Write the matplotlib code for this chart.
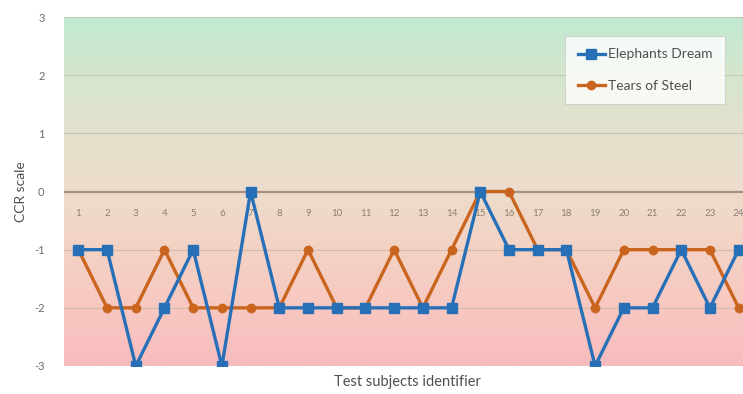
import numpy as np
import matplotlib
matplotlib.use("Agg")
import matplotlib.pyplot as plt
from matplotlib.colors import LinearSegmentedColormap

plt.rcParams['font.family'] = ['Lato', 'DejaVu Sans']

subjects = list(range(1, 25))
elephants_dream = [-1, -1, -3, -2, -1, -3, 0, -2, -2, -2, -2, -2,
                   -2, -2, 0, -1, -1, -1, -3, -2, -2, -1, -2, -1]
tears_of_steel = [-1, -2, -2, -1, -2, -2, -2, -2, -1, -2, -2, -1,
                  -2, -1, 0, 0, -1, -1, -2, -1, -1, -1, -1, -2]
y_ticks = [-3, -2, -1, 0, 1, 2, 3]

blue = '#2770b8'
orange = '#c9651f'
text_gray = '#6b6b6b'

fig = plt.figure(figsize=(7.43, 3.94), dpi=100)
ax = fig.add_axes([64 / 743, 28 / 394, 689 / 743, 349 / 394])

# vertical background gradient: green at the top, beige around zero, pink at the bottom
bg = LinearSegmentedColormap.from_list(
    'bg',
    [(0.0, '#f8bcbe'), (1 / 6, '#f7c8c1'), (2 / 6, '#f4d2c4'),
     (3 / 6, '#eddccb'), (4 / 6, '#e4e1cd'), (5 / 6, '#d5e6cd'), (1.0, '#c1ead1')])
grad = np.linspace(0, 1, 256).reshape(-1, 1)
ax.imshow(grad, cmap=bg, aspect='auto', origin='lower',
          extent=(0.5, 24.5, -3, 3), zorder=0)

for y in y_ticks:
    if y == 0:
        ax.axhline(y, color='#a89080', lw=1.6, zorder=1)
    else:
        ax.axhline(y, color='#c0b6a6', lw=0.8, alpha=0.7, zorder=1)

ax.plot(subjects, elephants_dream, color=blue, lw=2.4, marker='s', ms=7.5,
        label='Elephants Dream', zorder=3)
ax.plot(subjects, tears_of_steel, color=orange, lw=2.4, marker='o', ms=6,
        label='Tears of Steel', zorder=2)

# category labels sit just below the zero line
for s in subjects:
    ax.text(s, -0.37, str(s), ha='center', va='center', fontsize=7,
            color='#8a8070', zorder=1.5)

ax.set_xlim(0.5, 24.5)
ax.set_ylim(-3, 3)
ax.set_xticks([])
ax.set_yticks(y_ticks)
ax.set_yticklabels([str(v) for v in y_ticks], color=text_gray, fontsize=8)
ax.tick_params(axis='y', length=0, pad=14)
for sp in ax.spines.values():
    sp.set_visible(False)

ax.set_ylabel('CCR scale', fontsize=10, color='#505050', labelpad=5)
fig.text(407 / 743, 1 - 382 / 394, 'Test subjects identifier', ha='center',
         va='center', fontsize=10.5, color='#505050')

leg = ax.legend(loc='upper left', bbox_to_anchor=((565 - 64) / 689, 1 - 19 / 349),
                frameon=True, fontsize=10, handlelength=2.0, handletextpad=0.2,
                labelspacing=1.4, borderpad=0.9, borderaxespad=0, fancybox=False)
leg.get_frame().set_facecolor('white')
leg.get_frame().set_edgecolor('#cccccc')
leg.get_frame().set_linewidth(0.8)
for t in leg.get_texts():
    t.set_color('#505050')

fig.savefig('out.png', dpi=100, facecolor='white')
